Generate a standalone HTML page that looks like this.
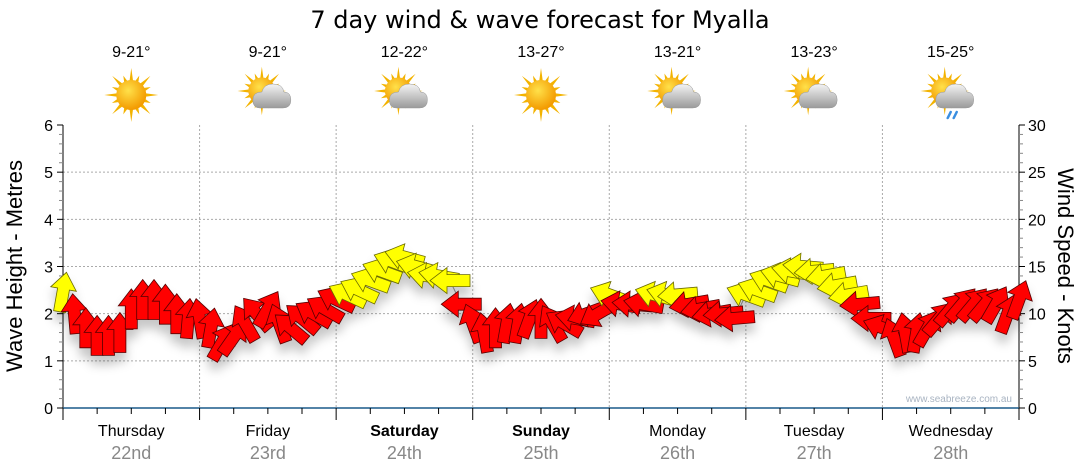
<!DOCTYPE html>
<html><head><meta charset="utf-8"><style>
html,body{margin:0;padding:0;background:#fff;width:1080px;height:475px;overflow:hidden}
text{font-family:"Liberation Sans",sans-serif}
</style></head><body>
<svg id="c" width="1080" height="475" xmlns="http://www.w3.org/2000/svg">
<defs>
<filter id="sh" x="-50%" y="-50%" width="200%" height="200%"><feDropShadow dx="0" dy="9" stdDeviation="5" flood-color="#000" flood-opacity="0.22"/></filter>
<radialGradient id="sunG" cx="40%" cy="35%" r="65%"><stop offset="0" stop-color="#ffe14a"/><stop offset="1" stop-color="#f39a00"/></radialGradient>
<linearGradient id="cloudG" x1="0" y1="0" x2="0" y2="1"><stop offset="0" stop-color="#f4f4f4"/><stop offset="1" stop-color="#9a9a9a"/></linearGradient>
</defs>
<text x="540" y="28" font-size="24" text-anchor="middle" fill="#000" style="font-family:'DejaVu Sans',sans-serif">7 day wind &amp; wave forecast for Myalla</text>
<g id="grid"></g><g id="axes"></g><g id="icons"></g><g id="series"></g>
<text transform="translate(22,266) rotate(-90)" font-size="22" text-anchor="middle">Wave Height - Metres</text>
<text transform="translate(1058,266) rotate(90)" font-size="22" text-anchor="middle">Wind Speed - Knots</text>
<text x="1012" y="402" font-size="10" text-anchor="end" fill="#a9b4c2">www.seabreeze.com.au</text>
</svg>
<script>
const days=["Thursday","Friday","Saturday","Sunday","Monday","Tuesday","Wednesday"];
const dates=["22nd","23rd","24th","25th","26th","27th","28th"];
const temps=["9-21°","9-21°","12-22°","13-27°","13-21°","13-23°","15-25°"];
const icons=["sun","suncloud","suncloud","sun","suncloud","suncloud","rain"];
const waveTicks=[0,1,2,3,4,5,6];
const windTicks=[0,5,10,15,20,25,30];
const windSpeed=[12.3,10,8.5,7.7,7.7,8,10.5,11.5,11.5,11,10,9.5,
9.5,8.5,7,7.5,9,10,10.5,9,8.5,9.5,10,10.5,
11.5,12,12.5,13.5,14.5,15.5,16,15,14,14,13.5,11,
9,8,8.5,9,9,9.5,9.5,9,9,9.5,10,10,
12,11,11,11,12,12,12,11,10.5,10,10,9.5,
12,12.5,13.5,14,14.5,15,14.5,14,13,12,11,9.5,
8.5,7.5,8,8,8.5,9.5,10.5,11,11,11,11,10,11.5];
const windDir=[10,-5,0,0,0,0,0,0,0,0,0,5,
-10,10,30,35,-30,-40,30,-20,-50,-50,-60,-60,
-65,-65,-65,-70,-70,-70,-75,-75,-80,-80,-90,-90,
-20,-10,0,10,10,20,0,-30,-60,-80,-110,-120,
-70,-80,-85,-80,-75,-75,-95,-100,-100,-100,-95,-95,
-70,-70,-70,-75,-80,-85,-95,-100,-100,-100,-95,-90,
-70,-20,-10,10,30,40,40,40,40,40,30,20,20];
const NS="http://www.w3.org/2000/svg";
const X0=63,X1=1019,Y0=408,Y1=125;
const dayW=(X1-X0)/7;
const xT=h=>X0+h/168*(X1-X0);
const yW=v=>Y0-v/6*(Y0-Y1);
const yK=v=>Y0-v/30*(Y0-Y1);
function mk(t,a,p){const e=document.createElementNS(NS,t);for(const k in a)e.setAttribute(k,a[k]);(p||document.getElementById('c')).appendChild(e);return e;}
const grid=document.getElementById('grid'),axes=document.getElementById('axes'),icG=document.getElementById('icons'),ser=document.getElementById('series');
waveTicks.forEach(v=>{if(v>0&&v<6){const l=mk('line',{x1:X0,x2:X1,y1:yW(v),y2:yW(v),stroke:'#aaa','stroke-dasharray':'2,2','stroke-width':1},grid);}});
for(let d=1;d<7;d++){const l=mk('line',{x1:X0+d*dayW,x2:X0+d*dayW,y1:Y1,y2:Y0,stroke:'#aaa','stroke-dasharray':'2,2'},grid);}
mk('line',{x1:X0,x2:X0,y1:Y1,y2:Y0+12,stroke:'#000'},axes);
mk('line',{x1:X1,x2:X1,y1:Y1,y2:Y0+12,stroke:'#000'},axes);
mk('line',{x1:X0,x2:X1,y1:Y0,y2:Y0,stroke:'#1a5a8a','stroke-width':1.5},axes);
for(let i=0;i<=30;i++){const y=Y0-i/30*(Y0-Y1);const maj=i%5==0;
mk('line',{x1:X0-(maj?6:4),x2:X0,y1:y,y2:y,stroke:maj?'#000':'#888'},axes);
mk('line',{x1:X1,x2:X1+(maj?6:4),y1:y,y2:y,stroke:maj?'#000':'#888'},axes);}
waveTicks.forEach(v=>{const t=mk('text',{x:X0-10,y:yW(v)+6,'font-size':16,'text-anchor':'end',fill:'#000'},axes);t.textContent=v;});
windTicks.forEach(v=>{const t=mk('text',{x:X1+9,y:yK(v)+6,'font-size':16,fill:'#000'},axes);t.textContent=v;});
for(let h=0;h<=168;h+=6){const x=xT(h);const maj=h%24==0;mk('line',{x1:x,x2:x,y1:Y0,y2:Y0+(maj?12:6),stroke:'#000'},axes);}
days.forEach((d,i)=>{const cx=X0+(i+.5)*dayW;const bold=(d=="Saturday"||d=="Sunday");
const t=mk('text',{x:cx,y:436,'font-size':16,'text-anchor':'middle','font-weight':bold?'bold':'normal'},axes);t.textContent=d;
const t2=mk('text',{x:cx,y:459,'font-size':18,'text-anchor':'middle',fill:'#888'},axes);t2.textContent=dates[i];
const t3=mk('text',{x:cx,y:57,'font-size':16,'text-anchor':'middle'},icG);t3.textContent=temps[i];
const g=mk('g',{transform:`translate(${cx},95)`},icG);
let rays='';for(let k=0;k<16;k++){const a=k*Math.PI/8,r=k%2?21:27,w=0.13;rays+=`M${(14*Math.cos(a-w)).toFixed(1)},${(14*Math.sin(a-w)).toFixed(1)}L${(r*Math.cos(a)).toFixed(1)},${(r*Math.sin(a)).toFixed(1)}L${(14*Math.cos(a+w)).toFixed(1)},${(14*Math.sin(a+w)).toFixed(1)}Z`;}
const sg=mk('g',{transform:icons[i]=='sun'?'':'translate(-6,-4) scale(0.9)'},g);
mk('path',{d:rays,fill:'#f3b300'},sg);mk('circle',{r:15,fill:'url(#sunG)'},sg);
if(icons[i]!='sun'){mk('path',{d:'M-8,13 Q-15,13 -15,5 Q-15,-3 -6,-3 Q-4,-11 5,-11 Q15,-11 16,-3 Q23,-3 23,5 Q23,13 15,13 Z',fill:'url(#cloudG)',stroke:'#999','stroke-width':0.5},g);}
if(icons[i]=='rain'){mk('path',{d:'M0,17 l-3,6 M6,17 l-3,6',stroke:'#3a8ee0','stroke-width':2.5,'stroke-linecap':'round'},g);}
});
const pts=windSpeed.map((v,i)=>[xT(i*2),yK(v)]);
const pl=mk('polyline',{points:pts.map(p=>p.join(',')).join(' '),fill:'none',stroke:'#999','stroke-width':1},ser);

const ag=mk('g',{filter:'url(#sh)'},ser);
windSpeed.forEach((v,i)=>{const [x,y]=pts[i];
const a=mk('path',{d:'M0,-20 L13,-3 L6,-3 L6,20 L-6,20 L-6,-3 L-13,-3 Z',transform:`translate(${x.toFixed(1)},${y.toFixed(1)}) rotate(${windDir[i]})`,fill:v>=12?'#ffff00':'#ff0000',stroke:v>=12?'#6a6a00':'#500','stroke-width':0.8},ag);

});
</script>
</body></html>
